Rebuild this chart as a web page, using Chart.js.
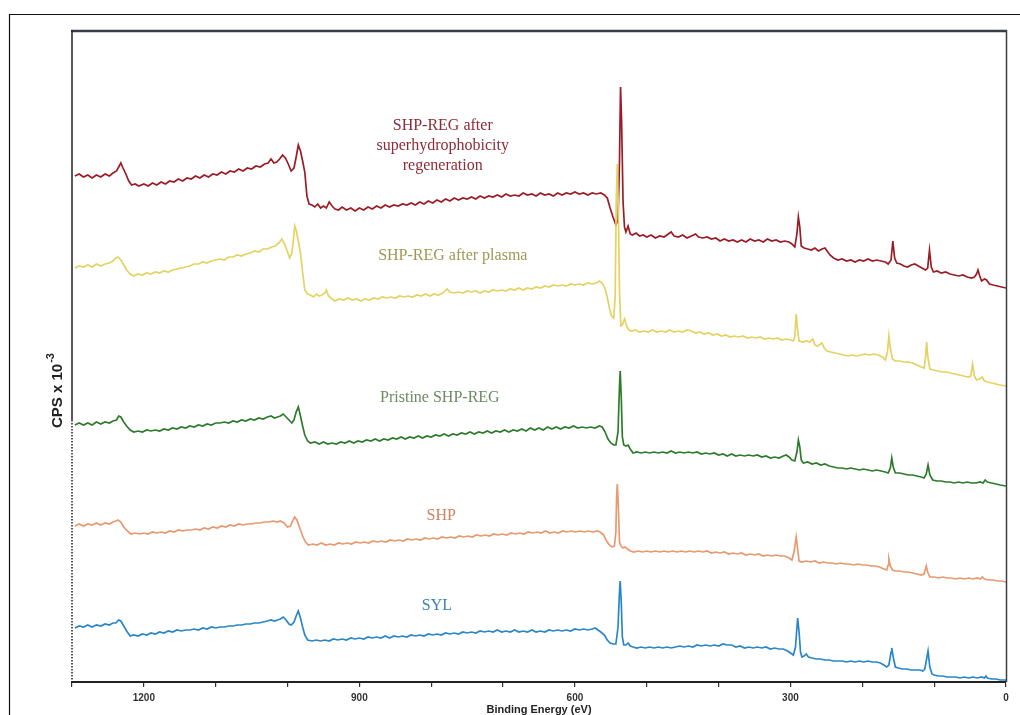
<!DOCTYPE html>
<html>
<head>
<meta charset="utf-8">
<script src="https://cdn.jsdelivr.net/npm/chart.js@4.4.0/dist/chart.umd.min.js"></script>
<style>
  html, body { margin: 0; padding: 0; background: #fff; }
  #wrap { width: 1020px; height: 715px; }
</style>
</head>
<body>
<div id="wrap"><canvas id="xps" width="1020" height="715"></canvas></div>
<script>
/* XPS survey spectra, [binding energy (eV), counts (arb., offset per curve)] */

var regenData = [[1296,506],[1290,508],[1284,505],[1278,507],[1272,504],[1266,507],[1260,505],[1254,508],[1248,506],[1243,509],[1238,511],[1235,515],[1232,519],[1229,514],[1225,508],[1221,501],[1217,497],[1212,498],[1207,496],[1200,498],[1194,496],[1188,499],[1182,497],[1176,500],[1170,498],[1164,501],[1158,500],[1152,503],[1146,501],[1140,504],[1134,503],[1128,506],[1122,504],[1116,507],[1110,505],[1104,508],[1098,507],[1092,510],[1086,508],[1080,511],[1074,510],[1068,513],[1062,511],[1056,514],[1050,513],[1044,516],[1038,515],[1032,518],[1027,519],[1023,523],[1019,519],[1015,520],[1011,523],[1007,527],[1003,524],[999,518],[995,511],[991,514],[988,525],[985,537],[982,531],[979,521],[976,510],[973,486],[970,478],[966,477],[962,475],[958,478],[954,474],[950,476],[946,474],[942,480],[938,476],[934,473],[929,472],[924,475],[918,472],[912,474],[906,471],[900,474],[894,472],[888,475],[882,473],[876,476],[870,474],[864,477],[858,475],[852,477],[846,476],[840,478],[834,477],[828,479],[822,477],[816,480],[810,478],[804,481],[798,479],[792,482],[786,480],[780,483],[774,481],[768,484],[762,482],[756,484],[750,483],[744,485],[738,483],[732,486],[726,484],[720,486],[714,485],[708,487],[702,485],[696,488],[690,486],[684,487],[678,486],[672,489],[666,487],[660,488],[654,486],[648,489],[642,487],[636,488],[630,486],[624,489],[618,487],[612,489],[606,488],[600,490],[594,488],[588,489],[582,487],[576,489],[570,488],[564,489],[559,487],[555,484],[551,474],[547,465],[543,457],[540,462],[538,520],[536.5,595],[535,560],[533,480],[531,455],[529,450],[526,456],[523,448],[520,447],[515,449],[510,446],[505,447],[500,445],[494,447],[488,444],[482,446],[476,445],[470,448],[466,450],[462,446],[456,445],[450,447],[444,444],[438,446],[432,448],[428,445],[422,444],[416,445],[410,443],[404,444],[398,441],[392,443],[386,441],[380,442],[374,440],[368,442],[362,440],[356,443],[350,441],[344,442],[338,440],[332,443],[326,441],[320,442],[314,440],[308,441],[302,440],[298,438],[294,435],[291,448],[289,465],[287,455],[285,436],[281,434],[276,433],[271,432],[266,434],[261,431],[256,433],[252,434],[249,431],[245,427],[240,424],[234,422],[228,423],[222,421],[216,422],[210,420],[204,422],[198,421],[192,423],[186,421],[180,422],[174,421],[168,420],[164,418],[160,422],[157.5,441],[155,424],[152,419],[147,418],[142,416],[137,415],[132,417],[127,418],[122,416],[117,414],[112,412],[109,414],[106.5,432],[104,415],[101,410],[96,411],[90,409],[84,410],[78,408],[72,407],[66,406],[60,407],[54,405],[48,404],[44,405],[41,408],[39,412],[37,407],[34,401],[30,403],[27,402],[23,398],[18,397],[12,396],[6,395],[0,394]];

var plasmaData = [[1296,414],[1290,416],[1284,415],[1278,417],[1272,415],[1266,418],[1260,416],[1254,418],[1248,419],[1243,421],[1239,424],[1236,425],[1232,422],[1228,417],[1224,412],[1219,408],[1214,406],[1208,408],[1202,407],[1196,409],[1190,408],[1184,410],[1178,409],[1172,411],[1166,410],[1160,412],[1154,413],[1148,414],[1142,415],[1136,416],[1130,418],[1124,418],[1118,420],[1112,419],[1106,421],[1100,422],[1094,423],[1088,422],[1082,425],[1076,425],[1070,427],[1064,426],[1058,428],[1052,429],[1046,431],[1040,430],[1034,433],[1028,433],[1022,435],[1017,436],[1012,439],[1008,443],[1004,438],[1000,430],[997,424],[994,429],[992,440],[990,456],[988,452],[985,441],[982,429],[979,410],[976,392],[972,388],[968,387],[964,385],[960,388],[956,386],[952,387],[948,389],[946,392],[943,386],[938,383],[934,381],[928,383],[922,382],[916,384],[910,382],[904,383],[898,381],[892,383],[886,382],[880,384],[874,383],[868,385],[862,384],[856,385],[850,384],[844,386],[838,385],[832,386],[826,385],[820,387],[814,386],[808,388],[802,386],[796,388],[790,387],[784,389],[778,393],[774,390],[768,389],[762,390],[756,389],[750,391],[744,390],[738,391],[732,389],[726,391],[720,390],[714,392],[708,391],[702,392],[696,391],[690,393],[684,392],[678,394],[672,392],[666,394],[660,393],[654,395],[648,394],[642,396],[636,395],[630,397],[624,396],[618,397],[612,396],[606,398],[600,397],[594,398],[588,397],[582,399],[576,398],[570,399],[566,401],[562,399],[558,393],[555,385],[552,374],[549,366],[546,364],[544,385],[542.5,480],[541,518],[539.5,470],[538,390],[536,356],[534,357],[531,363],[528,356],[525,352],[521,351],[516,352],[510,350],[504,351],[498,350],[492,352],[486,350],[480,351],[474,350],[468,352],[462,350],[456,351],[450,350],[444,352],[438,351],[432,349],[426,350],[420,348],[414,349],[408,347],[402,348],[396,346],[390,347],[384,345],[378,346],[372,345],[366,346],[360,344],[354,345],[348,344],[342,345],[336,343],[330,344],[324,343],[318,344],[312,342],[306,343],[300,342],[296,341],[294,345],[292,368],[290,352],[288,341],[283,340],[278,341],[273,340],[269,343],[266,337],[262,336],[258,338],[256,339],[253,334],[249,331],[244,330],[238,329],[232,328],[226,327],[220,326],[214,327],[208,326],[202,327],[196,328],[190,327],[184,328],[178,327],[172,325],[168,322],[165,330],[163,346],[161,334],[158,323],[154,321],[148,321],[142,320],[136,320],[130,319],[124,317],[118,315],[114,314],[112,325],[110.5,340],[109,326],[106,313],[101,312],[95,311],[89,310],[83,310],[77,309],[71,308],[65,307],[59,306],[53,305],[49,306],[46.5,318],[44,306],[41,302],[37,303],[33,305],[30,301],[26,300],[20,299],[14,298],[8,297],[0,296]];

var pristineData = [[1296,257],[1290,259],[1284,257],[1278,259],[1272,257],[1266,260],[1260,258],[1254,260],[1248,259],[1243,261],[1238,262],[1235,266],[1232,265],[1228,260],[1224,256],[1219,252],[1214,250],[1208,251],[1202,250],[1196,252],[1190,251],[1184,252],[1178,251],[1172,253],[1166,252],[1160,254],[1154,253],[1148,255],[1142,254],[1136,256],[1130,255],[1124,257],[1118,256],[1112,258],[1106,257],[1100,259],[1094,259],[1088,260],[1082,259],[1076,261],[1070,260],[1064,262],[1058,261],[1052,263],[1046,262],[1040,264],[1034,263],[1028,265],[1023,266],[1018,264],[1014,265],[1010,266],[1006,268],[1002,265],[998,262],[994,259],[991,262],[988,270],[985,275],[982,266],[979,256],[976,247],[972,241],[968,239],[962,240],[956,238],[950,240],[944,238],[938,239],[932,238],[926,240],[920,239],[914,241],[908,239],[902,241],[896,240],[890,242],[884,241],[878,243],[872,241],[866,243],[860,242],[854,244],[848,243],[842,245],[836,243],[830,245],[824,244],[818,246],[812,244],[806,246],[800,245],[794,247],[788,246],[782,248],[776,246],[770,248],[764,247],[758,249],[752,248],[746,250],[740,248],[734,250],[728,249],[722,251],[716,249],[710,251],[704,250],[698,252],[692,250],[686,252],[680,251],[674,253],[668,251],[662,254],[656,252],[650,254],[644,252],[638,255],[632,253],[626,255],[620,253],[614,255],[608,254],[602,256],[596,254],[590,255],[584,254],[578,255],[572,254],[566,256],[562,255],[558,250],[554,243],[550,239],[546,237],[543,237],[540,250],[538,295],[537,311],[535.5,285],[534,245],[532,237],[529,236],[526,237],[523,233],[519,229],[514,230],[508,229],[502,230],[496,229],[490,230],[484,229],[478,230],[472,229],[466,231],[460,229],[454,230],[448,229],[442,230],[436,229],[430,230],[424,228],[418,229],[412,228],[406,229],[400,227],[394,228],[388,226],[382,228],[376,226],[370,227],[364,226],[358,227],[352,226],[346,227],[340,225],[334,226],[328,224],[322,225],[316,224],[310,226],[306,227],[302,225],[298,222],[294,221],[291,230],[289,242],[287,235],[285,222],[282,219],[276,220],[270,218],[264,219],[258,217],[252,218],[246,216],[240,215],[234,214],[228,214],[222,213],[216,214],[210,213],[204,212],[198,213],[192,212],[186,211],[180,212],[174,211],[168,210],[164,209],[161,214],[159,224],[157,215],[154,209],[148,209],[142,208],[136,207],[130,207],[124,206],[118,205],[114,204],[111,208],[108.5,217],[106,207],[102,202],[96,201],[90,201],[84,200],[78,200],[72,199],[66,200],[60,199],[54,200],[48,199],[42,199],[36,200],[32,199],[29,202],[26,200],[20,199],[14,198],[8,197],[0,196]];

var shpData = [[1296,156],[1290,158],[1284,156],[1278,158],[1272,157],[1266,159],[1260,157],[1254,159],[1248,158],[1243,160],[1239,161],[1236,162],[1232,160],[1228,155],[1223,151],[1218,148],[1212,149],[1206,148],[1200,149],[1194,148],[1188,150],[1182,149],[1176,150],[1170,149],[1164,151],[1158,150],[1152,152],[1146,151],[1140,152],[1134,152],[1128,153],[1122,152],[1116,154],[1110,153],[1104,155],[1098,154],[1092,156],[1086,155],[1080,157],[1074,156],[1068,158],[1062,157],[1056,158],[1050,158],[1044,159],[1038,159],[1032,160],[1026,160],[1020,161],[1014,160],[1010,161],[1005,159],[1000,155],[996,156],[993,161],[990,165],[987,162],[983,154],[979,146],[975,140],[971,137],[965,138],[959,137],[953,139],[947,137],[941,138],[935,137],[929,139],[923,138],[917,139],[911,138],[905,140],[899,139],[893,140],[887,139],[881,141],[875,140],[869,141],[863,140],[857,142],[851,141],[845,142],[839,141],[833,143],[827,142],[821,143],[815,142],[809,144],[803,143],[797,144],[791,143],[785,145],[779,144],[773,145],[767,144],[761,146],[755,145],[749,146],[743,145],[737,147],[731,146],[725,147],[719,146],[713,148],[707,147],[701,148],[695,147],[689,149],[683,148],[677,149],[671,148],[665,150],[659,149],[653,150],[647,149],[641,151],[635,149],[629,150],[623,149],[617,151],[611,150],[605,151],[599,150],[593,151],[587,150],[581,151],[575,150],[569,151],[565,150],[560,147],[556,141],[552,137],[548,135],[545,136],[543,150],[542,185],[541,198],[539.5,175],[538,140],[536,136],[533,134],[530,135],[527,133],[523,131],[518,130],[512,131],[506,130],[500,131],[494,130],[488,131],[482,130],[476,131],[470,130],[464,131],[458,130],[452,131],[446,130],[440,131],[434,130],[428,131],[422,130],[416,131],[410,129],[404,130],[398,129],[392,130],[386,128],[380,129],[374,128],[368,129],[362,127],[356,128],[350,127],[344,128],[338,126],[332,127],[326,126],[320,127],[314,126],[308,126],[302,124],[298,122],[295,130],[292,145],[290,133],[288,121],[284,120],[278,121],[272,120],[266,121],[260,119],[254,120],[248,119],[242,119],[236,118],[230,119],[224,118],[218,118],[212,117],[206,118],[200,117],[194,117],[188,116],[182,116],[176,115],[170,113],[166,112],[164,117],[163,123],[161,116],[158,112],[154,111],[148,111],[142,110],[136,110],[130,109],[124,108],[118,107],[114,108],[111,116],[109,110],[106,105],[100,105],[94,104],[88,105],[82,104],[76,104],[70,103],[64,104],[58,103],[52,104],[46,103],[40,104],[36,103],[33,105],[30,103],[24,102],[18,102],[12,101],[6,101],[0,100]];

var sylData = [[1296,54],[1290,56],[1284,55],[1278,57],[1272,55],[1266,57],[1260,56],[1254,58],[1248,57],[1243,59],[1239,59],[1235,62],[1232,61],[1228,56],[1224,51],[1219,46],[1214,47],[1208,46],[1202,48],[1196,47],[1190,49],[1184,48],[1178,50],[1172,49],[1166,51],[1160,50],[1154,52],[1148,51],[1142,52],[1136,52],[1130,53],[1124,52],[1118,54],[1112,53],[1106,55],[1100,54],[1094,55],[1088,55],[1082,56],[1076,56],[1070,57],[1064,57],[1058,58],[1052,58],[1046,59],[1040,59],[1034,60],[1028,61],[1023,62],[1018,61],[1014,62],[1010,63],[1006,65],[1002,62],[998,58],[995,57],[991,60],[988,66],[985,71],[982,64],[979,55],[976,47],[972,42],[966,41],[960,42],[954,41],[948,42],[942,41],[936,43],[930,42],[924,43],[918,42],[912,44],[906,43],[900,44],[894,43],[888,45],[882,44],[876,45],[870,44],[864,46],[858,44],[852,46],[846,45],[840,46],[834,45],[828,47],[822,46],[816,47],[810,46],[804,48],[798,47],[792,48],[786,47],[780,49],[774,48],[768,49],[762,48],[756,50],[750,49],[744,50],[738,49],[732,51],[726,50],[720,51],[714,50],[708,52],[702,50],[696,51],[690,50],[684,52],[678,50],[672,51],[666,50],[660,52],[654,50],[648,51],[642,50],[636,52],[630,51],[624,52],[618,51],[612,52],[606,51],[600,53],[594,52],[588,53],[582,52],[576,53],[572,54],[568,52],[564,50],[559,47],[555,42],[551,39],[547,38],[543,38],[540,55],[538,90],[537,101],[535.5,80],[534,45],[532,37],[529,37],[526,39],[523,36],[519,35],[514,34],[508,35],[502,34],[496,35],[490,34],[484,35],[478,34],[472,35],[466,34],[460,35],[454,36],[448,35],[442,36],[436,35],[430,37],[424,36],[418,37],[412,36],[406,37],[400,36],[394,38],[388,37],[382,37],[376,35],[370,36],[364,34],[358,35],[352,34],[346,35],[340,34],[334,35],[328,33],[322,34],[316,33],[310,33],[304,31],[300,29],[296,27],[293,35],[290,64],[288,50],[286,30],[284,25],[281,26],[278,28],[275,25],[270,24],[264,23],[258,23],[252,22],[246,22],[240,21],[234,21],[228,21],[222,20],[216,21],[210,20],[204,21],[198,20],[192,21],[186,20],[180,20],[175,19],[170,17],[166,15],[163,17],[160,30],[159,34],[157,25],[154,15],[150,14],[144,13],[138,13],[132,12],[126,12],[120,12],[116,11],[113,13],[110,25],[108.5,31],[106,15],[103,8],[100,7],[94,6],[88,6],[82,5],[76,5],[70,5],[64,4],[58,5],[52,4],[46,5],[40,4],[34,5],[30,4],[28,6],[26,4],[20,3],[14,3],[8,2],[0,2]];

// curve names, where they sit (eV, counts) and their colours
var seriesNames = ['SHP-REG after superhydrophobicity regeneration', 'SHP-REG after plasma', 'Pristine SHP-REG', 'SHP', 'SYL'];
var lineColours = ['#9c1c26', '#e4d262', '#2e7b2c', '#e8996e', '#2b86c9'];
var textColours = ['#8e2b36', '#9b9a55', '#6f8a63', '#c8845c', '#3d7fb8'];
var labelLines = [['SHP-REG after', 'superhydrophobicity', 'regeneration'], ['SHP-REG after plasma'], ['Pristine SHP-REG'], ['SHP'], ['SYL']];
var labelEv = [784, 770, 788, 786, 792];
var labelCps = [556, 426, 284, 166, 76];

var xTicksShown = [1200, 900, 600, 300, 0];

var allData = [regenData, plasmaData, pristineData, shpData, sylData];

function toPoints(arr) {
	return arr.map(function(p) { return {x: p[0], y: p[1]}; });
}

var datasets = allData.map(function(arr, i) {
	return {
		label: seriesNames[i],
		data: toPoints(arr),
		borderColor: lineColours[i],
		borderWidth: 1.7,
		pointRadius: 0,
		tension: 0,
		fill: false,
		order: i === 1 ? 0 : i + 1
	};
});

var decorations = {
	id: 'decorations',
	beforeDraw: function(chart) {
		var ctx = chart.ctx;
		ctx.save();
		ctx.fillStyle = '#fff';
		ctx.fillRect(0, 0, chart.width, chart.height);
		ctx.restore();
	},
	afterDatasetsDraw: function(chart) {
		var ctx = chart.ctx;
		var xs = chart.scales.x, ys = chart.scales.y;
		ctx.save();
		ctx.font = '16px "Liberation Serif", "Times New Roman", serif';
		ctx.textAlign = 'center';
		ctx.textBaseline = 'middle';
		labelLines.forEach(function(lines, i) {
			ctx.fillStyle = textColours[i];
			var px = xs.getPixelForValue(labelEv[i]);
			var py = ys.getPixelForValue(labelCps[i]);
			lines.forEach(function(t, k) {
				ctx.fillText(t, px, py + k * 20);
			});
		});
		ctx.restore();
	},
	afterDraw: function(chart) {
		var ctx = chart.ctx;
		var a = chart.chartArea;
		ctx.save();

		// outer frame
		ctx.strokeStyle = '#111';
		ctx.lineWidth = 1.2;
		ctx.beginPath();
		ctx.moveTo(9.5, 715);
		ctx.lineTo(9.5, 14.5);
		ctx.lineTo(1020, 14.5);
		ctx.stroke();

		// plot box top / right
		ctx.strokeStyle = '#3a3d46';
		ctx.lineWidth = 2.5;
		ctx.beginPath();
		ctx.moveTo(a.left - 1, a.top + 1);
		ctx.lineTo(a.right + 1, a.top + 1);
		ctx.stroke();
		ctx.lineWidth = 1.5;
		ctx.beginPath();
		ctx.moveTo(a.right + 0.5, a.top);
		ctx.lineTo(a.right + 0.5, a.bottom);
		ctx.stroke();

		// left axis: solid, then dotted
		ctx.strokeStyle = '#222';
		ctx.lineWidth = 1.5;
		ctx.beginPath();
		ctx.moveTo(a.left, a.top);
		ctx.lineTo(a.left, 420);
		ctx.stroke();
		ctx.setLineDash([1.5, 1.5]);
		ctx.beginPath();
		ctx.moveTo(a.left, 420);
		ctx.lineTo(a.left, a.bottom);
		ctx.stroke();
		ctx.setLineDash([]);

		// y title with superscript
		ctx.translate(62, 428);
		ctx.rotate(-Math.PI / 2);
		ctx.fillStyle = '#222';
		ctx.textBaseline = 'alphabetic';
		ctx.textAlign = 'left';
		ctx.font = 'bold 15px "Liberation Sans", Arial, sans-serif';
		var main = 'CPS x 10';
		ctx.fillText(main, 0, 0);
		var w = ctx.measureText(main).width;
		ctx.font = 'bold 11px "Liberation Sans", Arial, sans-serif';
		ctx.fillText('-3', w + 1, -8);
		ctx.restore();
	}
};

var ctx = document.getElementById('xps');

var xpsChart = new Chart(ctx, {
	type: 'line',
	data: { datasets: datasets },
	options: {
		responsive: false,
		animation: false,
		devicePixelRatio: 1,
		layout: { padding: { left: 72, top: 30, right: 14, bottom: 0 } },
		plugins: {
			legend: { display: false },
			tooltip: { enabled: false }
		},
		scales: {
			x: {
				type: 'linear',
				reverse: true,
				min: 0,
				max: 1300,
				afterFit: function(scale) { scale.height = 33; },
				ticks: {
					stepSize: 100,
					autoSkip: false,
					maxRotation: 0,
					padding: 5,
					color: '#333',
					font: { family: '"Liberation Sans", Arial, sans-serif', size: 10, weight: 'bold' },
					callback: function(v) { return xTicksShown.indexOf(v) >= 0 ? String(v) : ''; }
				},
				grid: {
					drawOnChartArea: false,
					drawTicks: true,
					tickLength: 5,
					color: '#333',
					lineWidth: 1.2
				},
				border: { display: true, color: '#222', width: 2 },
				title: {
					display: true,
					text: 'Binding Energy (eV)',
					color: '#222',
					padding: { top: 0, bottom: -2 },
					font: { family: '"Liberation Sans", Arial, sans-serif', size: 11, weight: 'bold' }
				}
			},
			y: {
				display: false,
				min: 0,
				max: 652
			}
		}
	},
	plugins: [decorations]
});
</script>
</body>
</html>
